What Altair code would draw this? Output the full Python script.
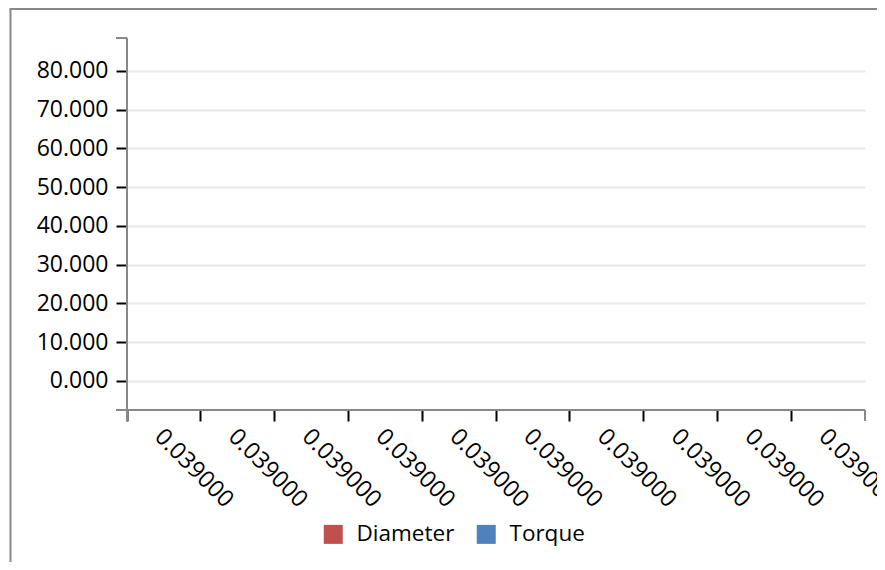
import json
import altair as alt
import pandas as pd

# ---- data (the chart shows no plotted values) ----
x_labels = ["0.039000", "0.039000", "0.039000", "0.039000", "0.039000",
            "0.039000", "0.039000", "0.039000", "0.039000", "0.039000"]
series_names = ["Diameter", "Torque"]
series_colors = ["#c0504d", "#4f81bd"]
diameter_values = [None, None, None, None, None, None, None, None, None, None]
torque_values = [None, None, None, None, None, None, None, None, None, None]
y_ticks = [0, 10, 20, 30, 40, 50, 60, 70, 80]
y_domain = [-7.5, 88.5]

rows = []
for i, lab in enumerate(x_labels):
    rows.append({"idx": i, "label": lab, "series": "Diameter", "value": diameter_values[i]})
    rows.append({"idx": i, "label": lab, "series": "Torque", "value": torque_values[i]})
df = pd.DataFrame(rows)

W, H = 738, 372
FONT = "Open Sans"
GRAY = "#888888"
TICK = 11

label_expr = json.dumps(x_labels) + "[datum.value]"

bars = alt.Chart(df).mark_bar().encode(
    x=alt.X(
        "idx:O",
        scale=alt.Scale(type="band", domain=list(range(len(x_labels))), paddingInner=0, paddingOuter=0),
        axis=alt.Axis(
            title=None, bandPosition=0, labelExpr=label_expr, labelAngle=45,
            labelFont=FONT, labelFontSize=23.5, labelColor="black",
            tickColor="black", tickSize=TICK, tickWidth=2, domain=False, grid=False,
            labelPadding=3, labelOffset=3,
        ),
    ),
    xOffset=alt.XOffset("series:N", scale=alt.Scale(domain=series_names)),
    y=alt.Y(
        "value:Q",
        scale=alt.Scale(domain=y_domain, nice=False, zero=False),
        axis=alt.Axis(
            title=None, values=y_ticks, format=".3f",
            labelFont=FONT, labelFontSize=23, labelColor="black", labelPadding=8,
            tickColor="black", tickSize=TICK, tickWidth=2, domain=False,
            grid=True, gridColor="#e8e8e8", gridWidth=2,
        ),
    ),
    color=alt.Color(
        "series:N",
        scale=alt.Scale(domain=series_names, range=series_colors),
        legend=alt.Legend(
            title=None, orient="none", legendX=195, legendY=485, direction="horizontal",
            symbolType="square", symbolSize=361, symbolStrokeWidth=0, symbolOpacity=1,
            labelFont=FONT, labelFontSize=22.5, labelColor="black", labelOffset=12,
            columnPadding=20, padding=0,
        ),
    ),
)

deco = alt.Data(values=[{"k": 0}])


def hrule(x, x2, y, color=GRAY, w=2):
    return alt.Chart(deco).mark_rule(color=color, strokeWidth=w).encode(
        x=alt.value(x), x2=alt.value(x2), y=alt.value(y))


def vrule(x, y, y2, color=GRAY, w=2):
    return alt.Chart(deco).mark_rule(color=color, strokeWidth=w).encode(
        x=alt.value(x), y=alt.value(y), y2=alt.value(y2))


frame = [
    vrule(0, 0, H + TICK),          # y axis line (with lower cap)
    hrule(-TICK, 0, 0),             # top cap
    hrule(-TICK, W, H),             # x axis line
    vrule(W, H, H + TICK),          # right end cap
    vrule(-116.5, -29, H + 160),    # outer container border (left)
    hrule(-117.5, W + 20, -29),     # outer container border (top)
]

chart = alt.layer(bars, *frame).properties(
    width=W, height=H,
    autosize=alt.AutoSizeParams(type="none"),
    padding={"left": 119, "top": 30, "right": 12, "bottom": 152},
).configure_view(stroke=None)

chart.save("out.html", embed_options={"renderer": "svg", "actions": False})
